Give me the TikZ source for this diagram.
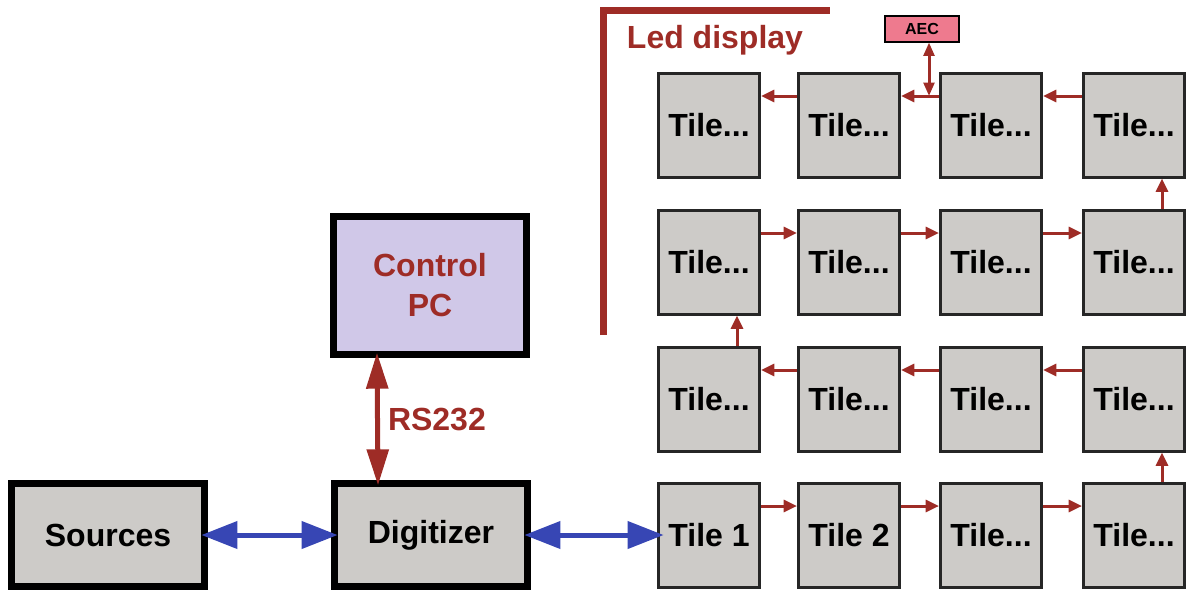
\documentclass[tikz,border=0pt]{standalone}
\usepackage{fontspec}
\setmainfont{Liberation Sans}
\usetikzlibrary{arrows.meta}

\definecolor{tilegray}{RGB}{205,203,200}
\definecolor{pcviolet}{RGB}{208,200,232}
\definecolor{aecpink}{RGB}{238,122,142}
\definecolor{ledred}{RGB}{158,44,38}
\definecolor{linkblue}{RGB}{55,70,180}

\begin{document}
\begin{tikzpicture}[x=0.75pt, y=-0.75pt,
	every node/.style={font=\fontsize{24}{30}\selectfont\bfseries},
	bigbox/.style={draw=black, line width=5.25pt, fill=tilegray, minimum width=144.75pt, minimum height=77.25pt, inner sep=0pt},
	tilebox/.style={draw=black!85, line width=2.25pt, fill=tilegray, minimum width=75.75pt, minimum height=78pt, inner sep=0pt},
	chain/.style={ledred, line width=2.25pt, -{Triangle[length=10pt, width=9pt]}},
	bluelink/.style={linkblue, line width=3.75pt, {Triangle[length=27pt, width=20pt]}-{Triangle[length=27pt, width=20pt]}, shorten <=-5pt, shorten >=-5pt}]
	\useasboundingbox (0,0) rectangle (1198,590);
	% left part
	\node[bigbox] (src) at (108,535) {Sources};
	\node[bigbox] (dig) at (431,535) {Digitizer};
	\node[bigbox, fill=pcviolet, minimum height=103.5pt, text=ledred, align=center] (pc) at (430,285.5) {Control\\PC};
	\draw[ledred, line width=3.75pt, {Triangle[length=27pt, width=16pt]}-{Triangle[length=27pt, width=16pt]}, shorten <=-4pt, shorten >=-4pt] ([xshift=-39.75pt]pc.south) -- ([xshift=-39.75pt]dig.north) node[midway, right, inner sep=6pt, text=ledred] {RS232};
	% led display frame
	\draw[ledred, line width=5.25pt, line join=miter] (603,335) -- (603,10.5) -- (830,10.5);
	\node[text=ledred] (ledlabel) at (715,40) {Led display};
	% tiles
	\node[tilebox] (t11) at (709,125) {Tile...};
	\node[tilebox] (t12) at (849,125) {Tile...};
	\node[tilebox] (t13) at (991,125) {Tile...};
	\node[tilebox] (t14) at (1134,125) {Tile...};
	\node[tilebox] (t21) at (709,262) {Tile...};
	\node[tilebox] (t22) at (849,262) {Tile...};
	\node[tilebox] (t23) at (991,262) {Tile...};
	\node[tilebox] (t24) at (1134,262) {Tile...};
	\node[tilebox] (t31) at (709,399) {Tile...};
	\node[tilebox] (t32) at (849,399) {Tile...};
	\node[tilebox] (t33) at (991,399) {Tile...};
	\node[tilebox] (t34) at (1134,399) {Tile...};
	\node[tilebox] (t41) at (709,535) {Tile 1};
	\node[tilebox] (t42) at (849,535) {Tile 2};
	\node[tilebox] (t43) at (991,535) {Tile...};
	\node[tilebox] (t44) at (1134,535) {Tile...};
	% daisy chain
	\draw[chain] ([yshift=21.75pt]t41.east) -- ([yshift=21.75pt]t42.west);
	\draw[chain] ([yshift=21.75pt]t42.east) -- ([yshift=21.75pt]t43.west);
	\draw[chain] ([yshift=21.75pt]t43.east) -- ([yshift=21.75pt]t44.west);
	\draw[chain] ([xshift=21pt]t44.north) -- ([xshift=21pt]t34.south);
	\draw[chain] ([yshift=21.75pt]t34.west) -- ([yshift=21.75pt]t33.east);
	\draw[chain] ([yshift=21.75pt]t33.west) -- ([yshift=21.75pt]t32.east);
	\draw[chain] ([yshift=21.75pt]t32.west) -- ([yshift=21.75pt]t31.east);
	\draw[chain] ([xshift=21pt]t31.north) -- ([xshift=21pt]t21.south);
	\draw[chain] ([yshift=21.75pt]t21.east) -- ([yshift=21.75pt]t22.west);
	\draw[chain] ([yshift=21.75pt]t22.east) -- ([yshift=21.75pt]t23.west);
	\draw[chain] ([yshift=21.75pt]t23.east) -- ([yshift=21.75pt]t24.west);
	\draw[chain] ([xshift=21pt]t24.north) -- ([xshift=21pt]t14.south);
	\draw[chain] ([yshift=21.75pt]t14.west) -- ([yshift=21.75pt]t13.east);
	\draw[chain] ([yshift=21.75pt]t13.west) -- ([yshift=21.75pt]t12.east);
	\draw[chain] ([yshift=21.75pt]t12.west) -- ([yshift=21.75pt]t11.east);
	% AEC
	\node[draw=black, line width=1.5pt, fill=aecpink, minimum width=55.5pt, minimum height=19.5pt, inner sep=0pt, font=\fontsize{12}{14}\selectfont\bfseries] (aec) at (922,28.5) {AEC};
	\coordinate (aecjoin) at (929,96);
	\draw[chain, {Triangle[length=10pt, width=8pt]}-{Triangle[length=10pt, width=8pt]}] (aec.south -| aecjoin) -- (aecjoin);
	% blue links
	\draw[bluelink] (src.east) -- (dig.west);
	\draw[bluelink] (dig.east) -- (t41.west);
\end{tikzpicture}
\end{document}
